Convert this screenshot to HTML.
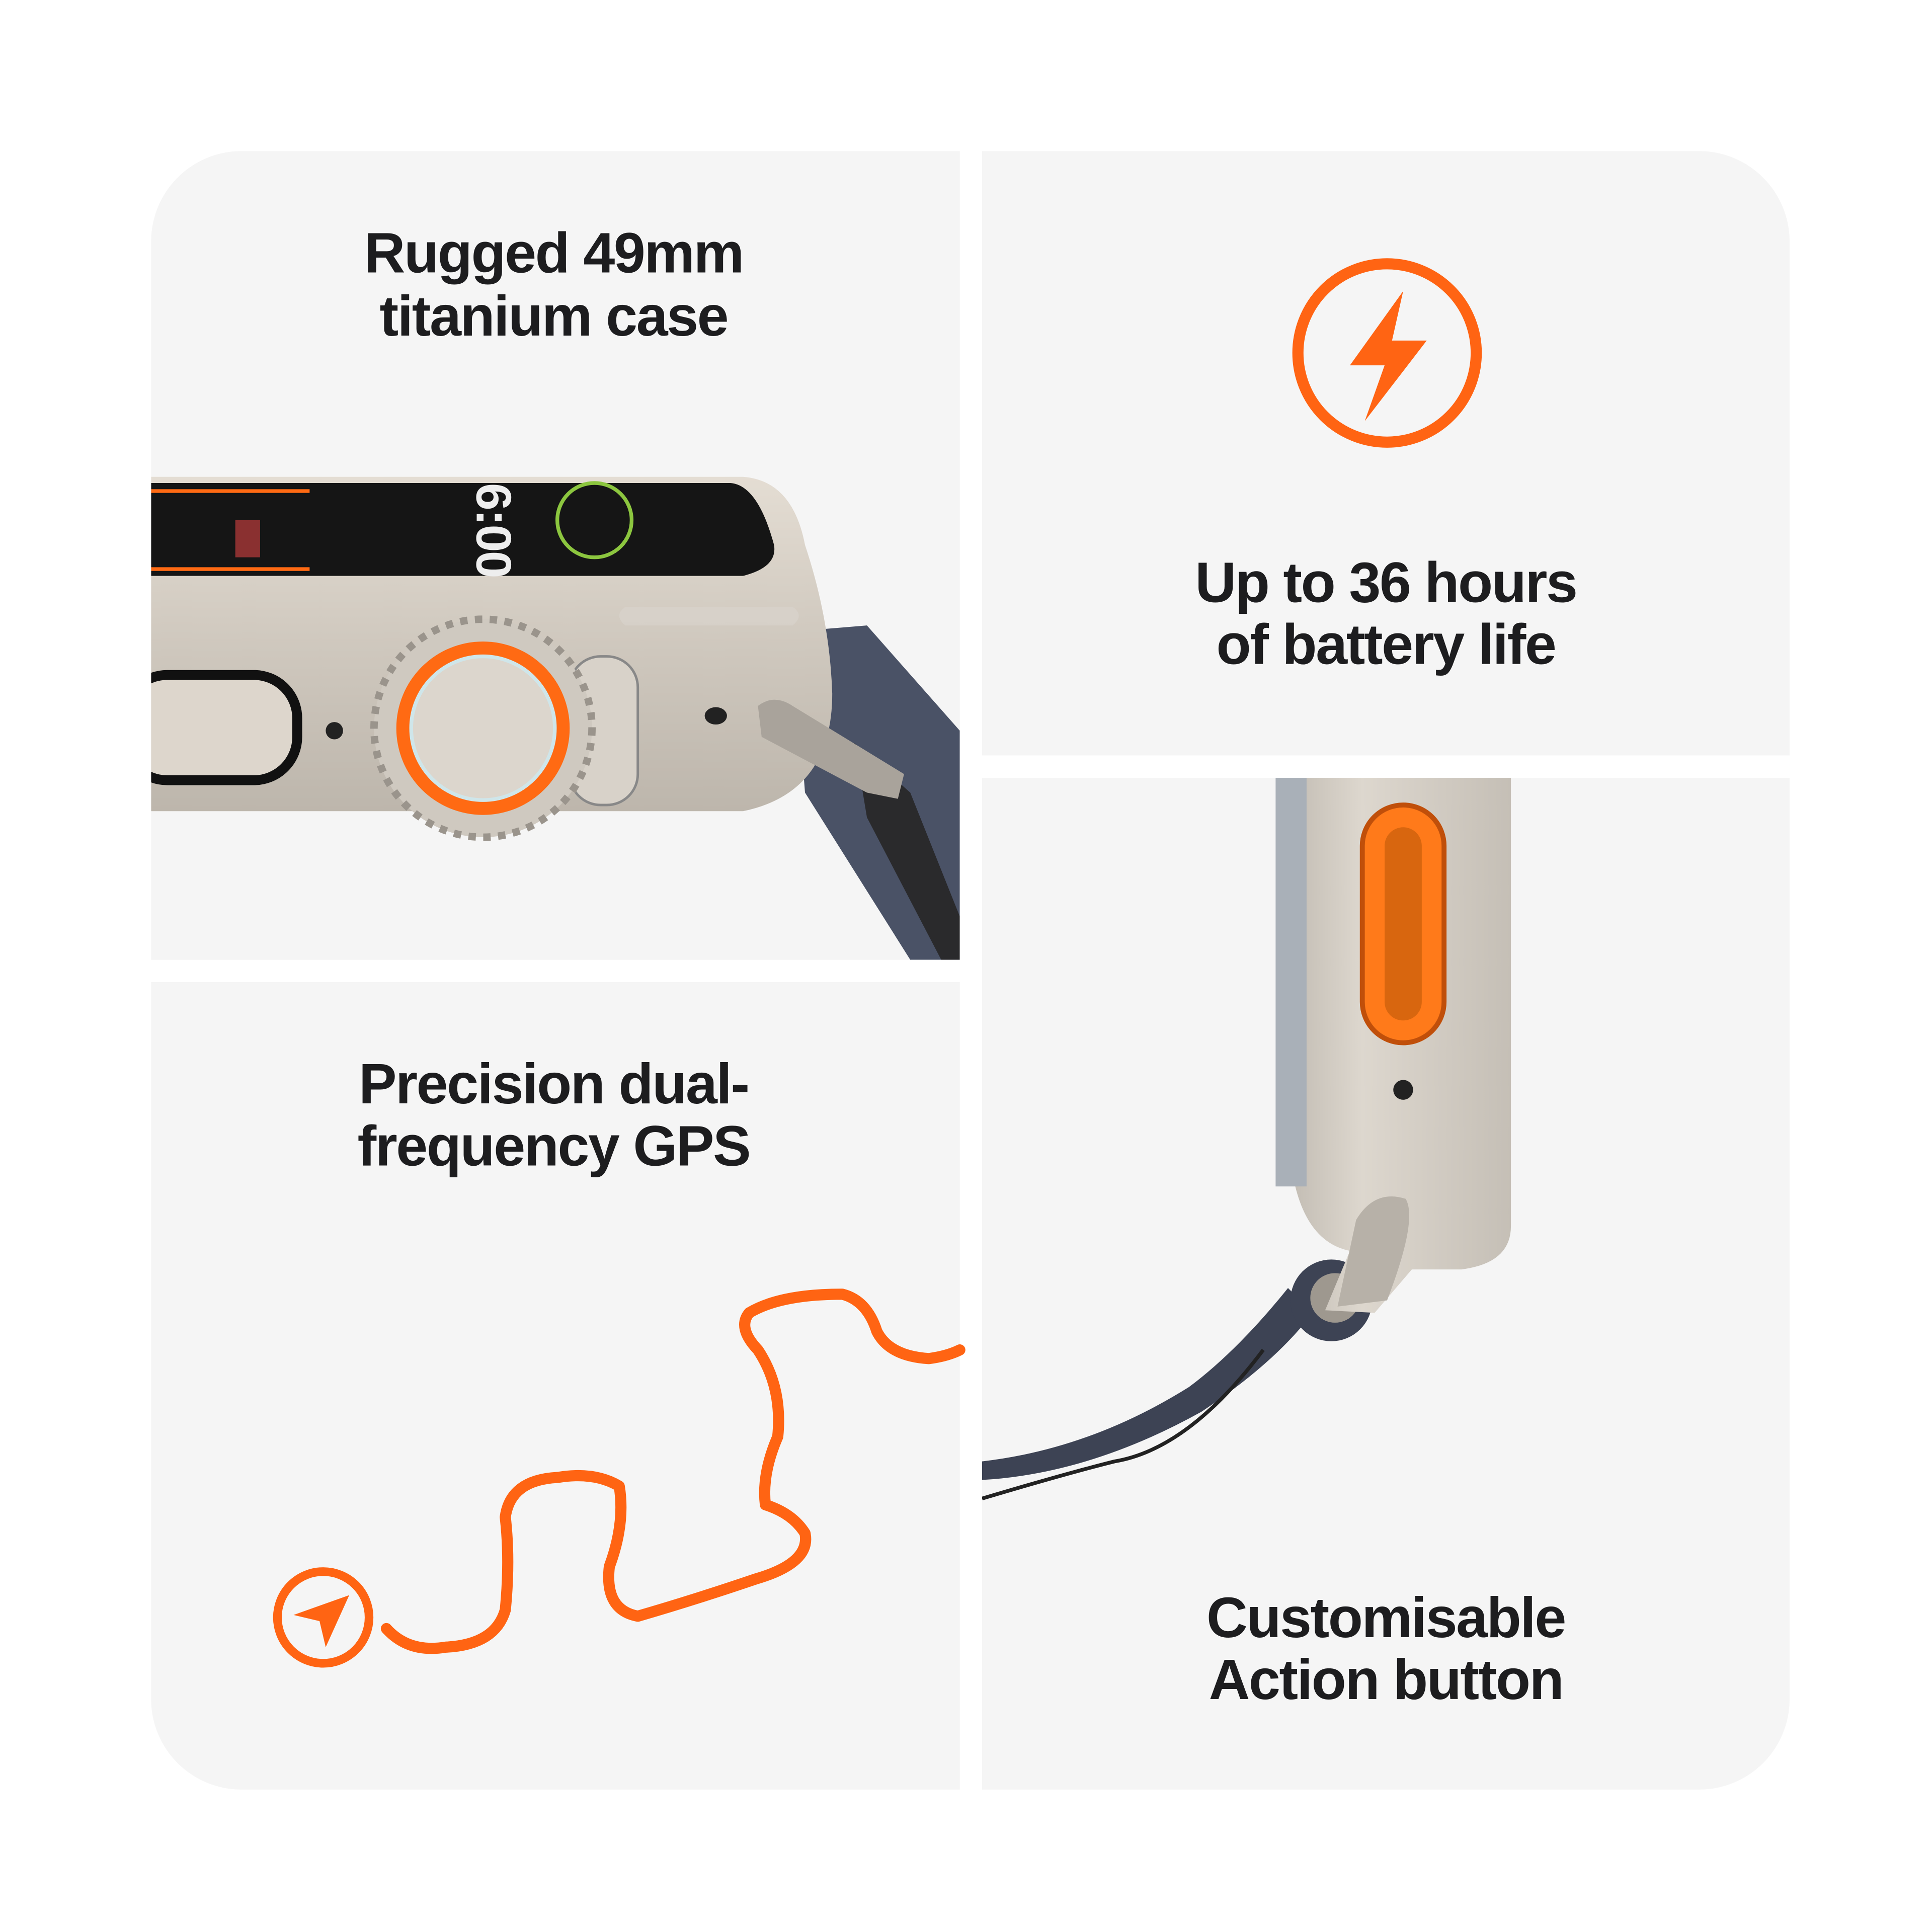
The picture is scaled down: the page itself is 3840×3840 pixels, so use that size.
<!DOCTYPE html>
<html><head><meta charset="utf-8"><style>
html,body{margin:0;padding:0;background:#fff;}
svg{display:block;}
text{font-family:"Liberation Sans",sans-serif;font-weight:bold;fill:#1d1d1f;letter-spacing:-1px;}
</style></head><body>
<svg width="3840" height="3840" viewBox="0 0 1560 1560" xmlns="http://www.w3.org/2000/svg">
<defs>
<clipPath id="tl"><path d="M195,122 H775 V775 H122 V195 A73,73 0 0 1 195,122Z"/></clipPath>
<clipPath id="br"><path d="M793,628 H1445 V1372 A73,73 0 0 1 1372,1445 H793Z"/></clipPath>
<linearGradient id="case" x1="0" y1="0" x2="0" y2="1"><stop offset="0" stop-color="#e4ddd3"/><stop offset=".5" stop-color="#cfc8be"/><stop offset="1" stop-color="#bdb6ac"/></linearGradient>
<linearGradient id="case2" x1="0" y1="0" x2="1" y2="0"><stop offset="0" stop-color="#b9b3aa"/><stop offset=".4" stop-color="#ddd7ce"/><stop offset="1" stop-color="#c5bfb6"/></linearGradient>
</defs>
<path d="M195,122 H775 V775 H122 V195 A73,73 0 0 1 195,122Z" fill="#f5f5f5"/>
<path d="M793,122 H1372 A73,73 0 0 1 1445,195 V610 H793Z" fill="#f5f5f5"/>
<path d="M122,793 H775 V1445 H195 A73,73 0 0 1 122,1372Z" fill="#f5f5f5"/>
<path d="M793,628 H1445 V1372 A73,73 0 0 1 1372,1445 H793Z" fill="#f5f5f5"/>

<g clip-path="url(#tl)">
<path d="M640,510 L700,505 L775,590 L775,775 L735,775 L650,640Z" fill="#4a5266"/>
<path d="M690,600 L735,640 L775,740 L775,775 L760,775 L700,660Z" fill="#2a2a2c"/>
<path d="M100,385 H600 Q640,388 650,440 Q670,500 672,560 Q672,640 600,655 H100Z" fill="url(#case)"/>
<path d="M100,390 H590 Q612,392 625,440 Q628,458 600,465 H100Z" fill="#151515"/>
<g fill="#ff6a13"><rect x="120" y="395" width="130" height="3"/><rect x="120" y="458" width="130" height="3"/><rect x="190" y="420" width="20" height="30" fill="#8a3030"/></g>
<text x="340" y="425" font-size="40" style="fill:#eee" transform="rotate(90 380 430)">6:00</text>
<circle cx="480" cy="420" r="30" fill="none" stroke="#8cc63f" stroke-width="3"/>
<path d="M505,490 H640 Q650,497 640,505 H505 Q495,497 505,490Z" fill="#d8d3cc" opacity=".7"/>
<rect x="100" y="545" width="140" height="85" rx="35" fill="#ddd6cc" stroke="#111" stroke-width="8"/>
<circle cx="270" cy="590" r="7" fill="#222"/>
<ellipse cx="578" cy="578" rx="9" ry="7" fill="#222"/>
<rect x="460" y="530" width="55" height="120" rx="25" fill="#d8d2c9" stroke="#888" stroke-width="2"/>
<circle cx="390" cy="588" r="88" fill="#cfc9c0" stroke="#9a948c" stroke-width="6" stroke-dasharray="6 6"/>
<circle cx="390" cy="588" r="70" fill="#ff6a13"/>
<circle cx="390" cy="588" r="58" fill="#dcd6cd" stroke="#cfe6ea" stroke-width="3"/>
<path d="M612,570 Q625,560 640,570 L730,625 L725,645 L700,640 L615,595Z" fill="#a9a39b"/>
</g>

<circle cx="1120" cy="285" r="72" fill="none" stroke="#ff6413" stroke-width="9"/>
<path d="M1133,235 L1090,295 H1118 L1102,340 L1152,275 H1124 Z" fill="#ff6413"/>

<g clip-path="url(#br)">
<path d="M1040,1040 Q1000,1090 960,1120 Q880,1170 793,1180 V1195 Q880,1190 970,1140 Q1030,1100 1060,1060Z" fill="#3d4354"/>
<path d="M793,1210 Q860,1190 900,1180 Q960,1170 1020,1090" fill="none" stroke="#222" stroke-width="3"/>
<circle cx="1075" cy="1050" r="33" fill="#3d4354"/>
<circle cx="1078" cy="1048" r="20" fill="#9e988f"/>
<path d="M1020,628 H1220 V990 Q1220,1020 1180,1025 H1140 L1110,1060 L1070,1058 L1090,1010 Q1040,1000 1040,900 V628Z" fill="url(#case2)"/>
<rect x="1030" y="628" width="25" height="330" fill="#a9b0b8"/>
<path d="M1095,985 Q1110,960 1135,968 Q1145,985 1120,1050 L1080,1055Z" fill="#b7b1a8"/>
<rect x="1100" y="650" width="66" height="192" rx="33" fill="#ff7a1a" stroke="#c04f0a" stroke-width="4"/>
<rect x="1118" y="668" width="30" height="156" rx="15" fill="#d8660f"/>
<circle cx="1133" cy="880" r="8" fill="#222"/>
</g>

<path d="M312,1315 Q330,1335 360,1330 Q400,1328 408,1300 Q412,1260 408,1225 Q412,1195 450,1193 Q480,1188 500,1200 Q505,1230 492,1265 Q488,1300 515,1305 Q560,1292 610,1275 Q655,1262 650,1238 Q640,1222 618,1215 Q615,1190 628,1160 Q632,1120 612,1090 Q595,1072 605,1060 Q630,1045 680,1045 Q700,1050 708,1075 Q718,1095 750,1097 Q765,1095 775,1090" fill="none" stroke="#ff6413" stroke-width="9" stroke-linecap="round" stroke-linejoin="round"/>
<circle cx="261" cy="1306" r="37" fill="none" stroke="#ff6413" stroke-width="7"/>
<path d="M282,1288 L237,1304 L258,1309 L263,1330Z" fill="#ff6413"/>

<g font-size="46" text-anchor="middle">
<text x="447" y="220">Rugged 49mm</text>
<text x="447" y="271">titanium case</text>
<text x="1119" y="486">Up to 36 hours</text>
<text x="1119" y="536">of battery life</text>
<text x="447" y="891">Precision dual-</text>
<text x="447" y="941">frequency GPS</text>
<text x="1119" y="1322">Customisable</text>
<text x="1119" y="1372">Action button</text>
</g>
</svg>
</body></html>
